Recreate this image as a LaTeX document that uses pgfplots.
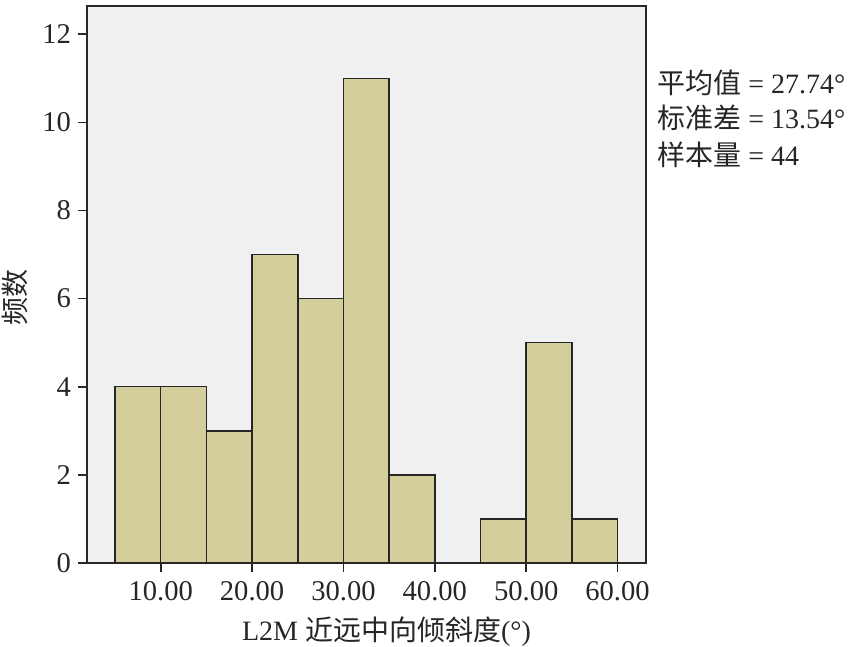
\documentclass[border=0pt]{standalone}
\usepackage{pgfplots}
\pgfplotsset{compat=1.18}
\usepackage{fontspec}
\setmainfont{Liberation Serif}
\newfontfamily\cjk{Noto Sans CJK SC}
\definecolor{barfill}{RGB}{211,206,155}
\definecolor{bgfill}{RGB}{240,240,240}
\definecolor{axcol}{RGB}{40,40,40}
\begin{document}
\begin{tikzpicture}
\useasboundingbox (-43.5pt,-42pt) rectangle (382pt,281.5pt);
\begin{axis}[
  at={(0pt,0pt)}, anchor=south west,
  scale only axis, width=279.35pt, height=278.5pt,
  xmin=1.93, xmax=63.08, ymin=0, ymax=12.64,
  axis background/.style={fill=bgfill},
  axis line style={axcol, line width=0.8pt},
  xtick={10,20,30,40,50,60}, ytick={0,2,4,6,8,10,12},
  xtick pos=bottom, ytick pos=left,
  tick align=outside, major tick length=4.5pt,
  tick style={axcol, line width=0.8pt},
  /pgf/number format/assume math mode=true,
  tick label style={font=\fontsize{14.3}{16}\selectfont, text=black!85},
  xticklabel style={/pgf/number format/fixed, /pgf/number format/fixed zerofill, /pgf/number format/precision=2, yshift=-1pt},
  scaled ticks=false,
]
\addplot[ybar interval, fill=barfill, draw=black!85, line width=0.75pt]
  coordinates {(5,4)(10,4)(15,3)(20,7)(25,6)(30,11)(35,2)(40,0)(45,1)(50,5)(55,1)(60,1)};
\end{axis}
\node[rotate=90, text=black!85, inner sep=0pt] at (-36pt,132.5pt) {\fontsize{14}{16}\selectfont\cjk 频数};
\node[text=black!85, inner sep=0pt] at (149.75pt,-34.5pt) {\fontsize{14}{16}\selectfont L2M {\cjk 近远中向倾斜度}(°)};
\node[anchor=west, text=black!85, inner sep=0pt] at (285pt,240pt) {\fontsize{14}{16}\selectfont{\cjk 平均值} = 27.74°};
\node[anchor=west, text=black!85, inner sep=0pt] at (285pt,222.5pt) {\fontsize{14}{16}\selectfont{\cjk 标准差} = 13.54°};
\node[anchor=west, text=black!85, inner sep=0pt] at (285pt,204pt) {\fontsize{14}{16}\selectfont{\cjk 样本量} = 44};
\end{tikzpicture}
\end{document}
